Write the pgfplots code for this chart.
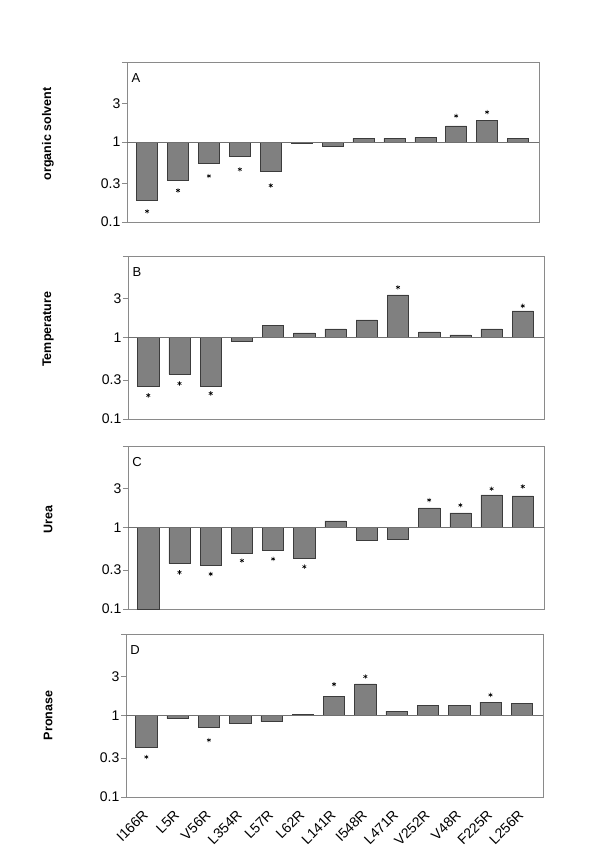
\documentclass[border=0pt]{standalone}
\usepackage{fontspec}
\setmainfont{Liberation Sans}
\usepackage{pgfplots}
\pgfplotsset{compat=1.18}
\definecolor{axgray}{HTML}{8A8A8A}
\definecolor{barfill}{HTML}{808080}
\definecolor{baredge}{HTML}{3C3C3C}
\definecolor{basecol}{HTML}{707070}
\pgfplotsset{every axis/.append style={
    scale only axis,
    xmin=-0.65, xmax=12.68,
    ymin=0.1, ymax=10,
    ytick={0.1,0.3,1,3,10}, yticklabels={0.1,0.3,1,3,{}},
    xtick={0,...,12},
    ytick pos=left,
    axis line style={axgray, line width=0.8pt},
    major tick length=5pt, tick align=outside,
    yticklabel style={font=\fontsize{14}{14}\selectfont, inner sep=1.5pt},
    clip=false,
  }}
\newcommand{\onebaseline}{\draw[basecol, line width=0.8pt] (axis cs:-0.65,1) -- (axis cs:12.68,1);}
\newcommand{\panelletter}[1]{\node[font=\fontsize{13}{13}\selectfont] at ([xshift=9pt,yshift=-16pt]rel axis cs:0,1) {#1};}
\begin{document}
\begin{tikzpicture}
\path[use as bounding box] (0,0) rectangle (600pt,-863pt);
% Panel A
\begin{semilogyaxis}[at={(127pt,-62pt)}, anchor=north west, width=412pt, height=160pt,
  xticklabels={}, xtick style={draw=none}, ytick style={axgray, line width=0.8pt}, yminorticks=false,
  ylabel={organic solvent}, ylabel style={font=\bfseries\fontsize{12.5}{12.5}\selectfont, at={(axis description cs:-0.192,0.55)}, anchor=center}]
\addplot[ybar, bar width=0.68, fill=barfill, draw=baredge, line width=0.5pt] coordinates {(0,0.189)(1,0.334)(2,0.54)(3,0.66)(4,0.435)(5,0.962)(6,0.883)(7,1.11)(8,1.11)(9,1.14)(10,1.59)(11,1.88)(12,1.12)};
\addplot[only marks, mark=asterisk, mark size=2.2pt, mark options={black, line width=0.6pt}] coordinates {(0,0.136)(1,0.248)(2,0.376)(3,0.455)(4,0.286)(10,2.12)(11,2.36)};
\onebaseline
\panelletter{A}
\end{semilogyaxis}
% Panel B
\begin{semilogyaxis}[at={(128pt,-256pt)}, anchor=north west, width=416pt, height=163pt,
  xticklabels={}, xtick style={draw=none}, ytick style={axgray, line width=0.8pt}, yminorticks=false,
  ylabel={Temperature}, ylabel style={font=\bfseries\fontsize{12.5}{12.5}\selectfont, at={(axis description cs:-0.192,0.55)}, anchor=center}]
\addplot[ybar, bar width=0.68, fill=barfill, draw=baredge, line width=0.5pt] coordinates {(0,0.251)(1,0.352)(2,0.251)(3,0.893)(4,1.416)(5,1.14)(6,1.28)(7,1.65)(8,3.33)(9,1.17)(10,1.08)(11,1.28)(12,2.12)};
\addplot[only marks, mark=asterisk, mark size=2.2pt, mark options={black, line width=0.6pt}] coordinates {(0,0.195)(1,0.273)(2,0.206)(8,4.13)(12,2.44)};
\onebaseline
\panelletter{B}
\end{semilogyaxis}
% Panel C
\begin{semilogyaxis}[at={(128pt,-446pt)}, anchor=north west, width=416pt, height=163pt,
  xticklabels={}, xtick style={draw=none}, ytick style={axgray, line width=0.8pt}, yminorticks=false,
  ylabel={Urea}, ylabel style={font=\bfseries\fontsize{12.5}{12.5}\selectfont, at={(axis description cs:-0.192,0.55)}, anchor=center}]
\addplot[ybar, bar width=0.68, fill=barfill, draw=baredge, line width=0.5pt] coordinates {(0,0.1)(1,0.361)(2,0.348)(3,0.479)(4,0.526)(5,0.42)(6,1.21)(7,0.699)(8,0.719)(9,1.746)(10,1.51)(11,2.52)(12,2.45)};
\addplot[only marks, mark=asterisk, mark size=2.2pt, mark options={black, line width=0.6pt}] coordinates {(1,0.282)(2,0.269)(3,0.393)(4,0.412)(5,0.331)(9,2.17)(10,1.88)(11,2.99)(12,3.19)};
\onebaseline
\panelletter{C}
\end{semilogyaxis}
% Panel D
\begin{semilogyaxis}[at={(126pt,-634pt)}, anchor=north west, width=417pt, height=163pt,
  xtick style={draw=none}, ytick style={axgray, line width=0.8pt}, yminorticks=false,
  ylabel={Pronase}, ylabel style={font=\bfseries\fontsize{12.5}{12.5}\selectfont, at={(axis description cs:-0.187,0.5)}, anchor=center},
  xticklabels={I166R,L5R,V56R,L354R,L57R,L62R,L141R,I548R,L471R,V252R,V48R,F225R,L256R},
  xticklabel style={rotate=45, anchor=east, font=\fontsize{14}{14}\selectfont, inner sep=1pt},
  xticklabel shift=10pt]
\addplot[ybar, bar width=0.68, fill=barfill, draw=baredge, line width=0.5pt] coordinates {(0,0.413)(1,0.918)(2,0.71)(3,0.796)(4,0.843)(5,1.03)(6,1.72)(7,2.45)(8,1.13)(9,1.34)(10,1.33)(11,1.46)(12,1.42)};
\addplot[only marks, mark=asterisk, mark size=2.2pt, mark options={black, line width=0.6pt}] coordinates {(0,0.31)(2,0.499)(6,2.42)(7,3.01)(11,1.79)};
\onebaseline
\panelletter{D}
\end{semilogyaxis}
\end{tikzpicture}
\end{document}
